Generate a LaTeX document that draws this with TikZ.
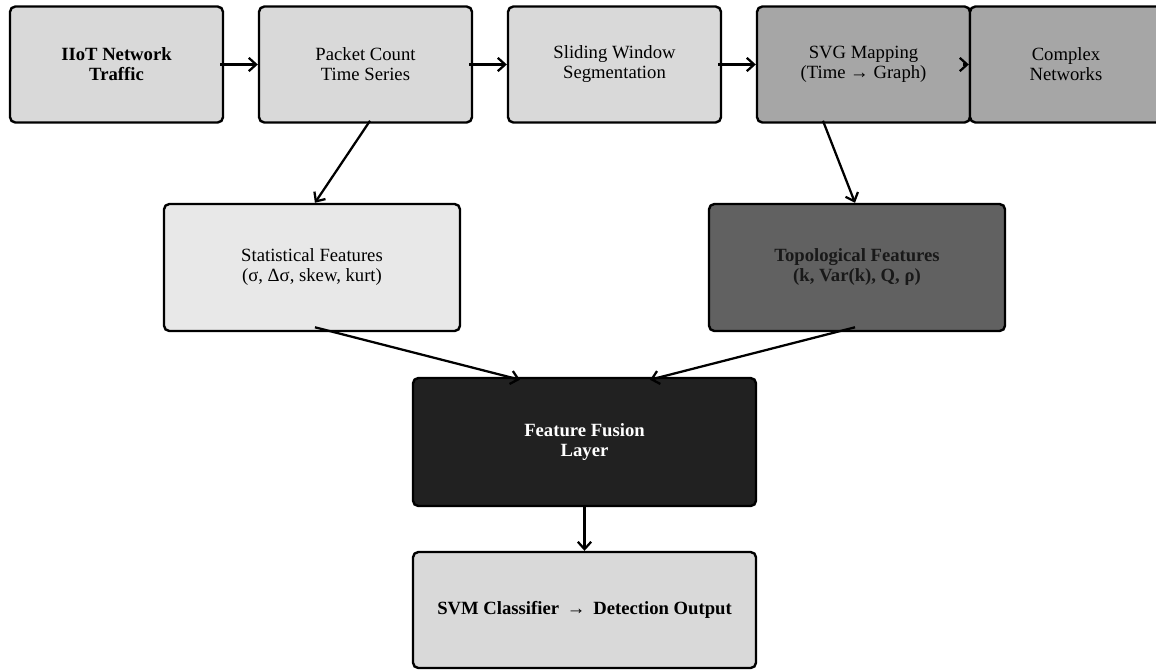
\documentclass[tikz,border=0pt]{standalone}
\usepackage{fontspec}
\setmainfont{Liberation Serif}
\usetikzlibrary{arrows.meta,calc}
\begin{document}
\begin{tikzpicture}[x=0.75pt,y=-0.75pt,
  box/.style={draw=black,line width=1.8pt,rounded corners=4pt,align=center,
    font=\fontsize{14}{15}\selectfont,inner sep=0pt},
  topbox/.style={box,minimum width=159.75pt,minimum height=87pt},
  midbox/.style={box,minimum width=222pt,minimum height=95.25pt},
  conn/.style={line width=1.7pt,-{Straight Barb[length=5.5pt,width=10pt,line width=1.7pt]}}]
\clip (0,0) rectangle (1156,669);
\fill[white] (0,0) rectangle (1156,669);
\node[topbox,fill=black!15,font=\fontsize{14}{15}\selectfont\bfseries] (iiot) at (116.5,64.5) {IIoT Network\\Traffic};
\node[topbox,fill=black!15] (pc) at (365.5,64.5) {Packet Count\\Time Series};
\node[topbox,fill=black!15] (sw) at (614.5,64.5) {Sliding Window\\Segmentation};
\node[topbox,fill=black!35] (svg) at (863.5,64.5) {SVG Mapping\\(Time → Graph)};
\node[topbox,fill=black!35,minimum width=144pt] (cn) at (1066,64.5) {Complex\\Networks};
\node[midbox,fill=black!9] (stat) at (312,267.5) {Statistical Features\\(σ, Δσ, skew, kurt)};
\node[midbox,fill=black!62,text=black!90,font=\fontsize{14}{15}\selectfont\bfseries] (topo) at (857,267.5) {Topological Features\\(k, Var(k), Q, ρ)};
\node[box,fill=black!87,text=white,font=\fontsize{14}{15}\selectfont\bfseries,minimum width=257.25pt,minimum height=96pt] (fus) at (584.5,442) {Feature Fusion\\Layer};
\node[box,fill=black!15,font=\fontsize{14}{15}\selectfont\bfseries,minimum width=257.25pt,minimum height=87pt] (svm) at (584.5,610) {SVM Classifier \,→\, Detection Output};
\draw[conn] ([xshift=-3pt]iiot.east) -- (pc.west);
\draw[conn] ([xshift=-3pt]pc.east) -- (sw.west);
\draw[conn] ([xshift=-3pt]sw.east) -- (svg.west);
\draw[conn] ([xshift=-6pt]svg.east) -- (cn.west);
\draw[conn] ([xshift=3.4pt,yshift=2.2pt]pc.south) -- ([xshift=2.2pt]stat.north);
\draw[conn] ([xshift=-30.4pt,yshift=2.2pt]svg.south) -- ([xshift=-1.5pt]topo.north);
\draw[conn] ([xshift=2.2pt,yshift=3.7pt]stat.south) -- ([xshift=-48.4pt,yshift=-2.2pt]fus.north);
\draw[conn] ([xshift=-1.5pt,yshift=3.7pt]topo.south) -- ([xshift=49.1pt,yshift=-2.2pt]fus.north);
\draw[conn] (fus.south) -- (svm.north);
\end{tikzpicture}
\end{document}
